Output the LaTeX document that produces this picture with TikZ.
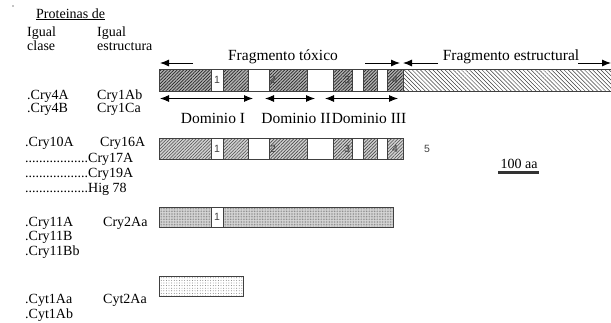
\documentclass[tikz,border=0pt]{standalone}
\usepackage{fontspec}
\setmainfont{Liberation Serif}
\newfontfamily\numfont{Liberation Sans}
\usetikzlibrary{arrows.meta,patterns,patterns.meta}

\tikzset{
  lbl/.style={anchor=base west,inner sep=0pt,font=\fontsize{14}{15}\selectfont},
  ttl/.style={anchor=base,inner sep=0pt,font=\fontsize{15.5}{16}\selectfont},
  num/.style={inner sep=0pt,font=\numfont\fontsize{10.5}{11}\selectfont,text=black!75},
  seg/.style={draw=black!75,line width=0.9pt},
  blank/.style={seg,fill=white},
  darkh/.style={seg,preaction={fill=gray!60},pattern={Lines[angle=45,distance=2.3pt,line width=0.7pt]},pattern color=black!85},
  lighth/.style={seg,preaction={fill=gray!35},pattern={Lines[angle=45,distance=2.3pt,line width=0.6pt]},pattern color=black!70},
  strh/.style={pattern={Lines[angle=-45,distance=2.9pt,line width=0.5pt]},pattern color=black!75},
  fined/.style={seg,preaction={fill=gray!30},pattern={Dots[distance=1.6pt,radius=0.45pt]},pattern color=black!55},
  sparsed/.style={seg,pattern={Dots[distance=2.6pt,radius=0.45pt]},pattern color=black!60},
  tip/.style={-{Latex[length=9pt,width=7pt]},line width=0.9pt},
  dtip/.style={{Latex[length=9pt,width=7pt]}-{Latex[length=9pt,width=7pt]},line width=0.9pt}
}

\begin{document}
\begin{tikzpicture}[x=1pt,y=-1pt]
 \useasboundingbox (0,0) rectangle (611,322);
 \fill (13,6) circle (0.6pt);

 \node[lbl] (hdr) at (36,18) {\underline{Proteinas de}};
 \node[lbl] (igc) at (27,36) {Igual};
 \node[lbl] (cls) at (27,50.5) {clase};
 \node[lbl] (ige) at (97,36) {Igual};
 \node[lbl] (est) at (97,50.5) {estructura};

 \node[lbl] (cry4a) at (27,99.5) {.Cry4A};
 \node[lbl] (cry4b) at (27,112) {.Cry4B};
 \node[lbl] (cry1ab) at (97,99.5) {Cry1Ab};
 \node[lbl] (cry1ca) at (97,112) {Cry1Ca};

 \node[lbl] (cry10a) at (25,146.5) {.Cry10A};
 \node[lbl] (cry16a) at (100,146.5) {Cry16A};
 \node[lbl] (cry17a) at (25,162) {..................Cry17A};
 \node[lbl] (cry19a) at (25,177) {..................Cry19A};
 \node[lbl] (hig78) at (25,192.5) {..................Hig 78};

 \node[lbl] (cry11a) at (25,226) {.Cry11A};
 \node[lbl] (cry2aa) at (103,226) {Cry2Aa};
 \node[lbl] (cry11b) at (25,240.5) {.Cry11B};
 \node[lbl] (cry11bb) at (25,255) {.Cry11Bb};

 \node[lbl] (cyt1aa) at (25,303.5) {.Cyt1Aa};
 \node[lbl] (cyt2aa) at (103,303.5) {Cyt2Aa};
 \node[lbl] (cyt1ab) at (25,318.5) {.Cyt1Ab};

 % toxina completa
 \fill[strh] (403,69) rectangle (611,91);
 \draw[seg] (403,69) -- (611,69) (403,91) -- (611,91);
 \foreach \a/\b in {159/211,223/248,269/307,333/352,363/377,387/403}
  \draw[darkh] (\a,69) rectangle (\b,91);
 \foreach \a/\b in {211/223,248/269,307/333,352/363,377/387}
  \draw[blank] (\a,69) rectangle (\b,91);
 \node[num] (b1) at (217,80) {1};
 \node[num] (b2) at (273,80) {2};
 \node[num] (b3) at (347,80) {3};
 \node[num] (b4) at (395,80) {4};

 \node[ttl] (ftox) at (283,60.5) {Fragmento tóxico};
 \coordinate (ftoxa) at (193,63);
 \coordinate (ftoxb) at (160,63);
 \coordinate (ftoxc) at (365,63);
 \coordinate (ftoxd) at (400,63);
 \draw[tip] (ftoxa) -- (ftoxb);
 \draw[tip] (ftoxc) -- (ftoxd);
 \node[ttl] (fest) at (511,60.5) {Fragmento estructural};
 \coordinate (festa) at (438,63);
 \coordinate (festb) at (403,63);
 \coordinate (festc) at (578,63);
 \coordinate (festd) at (611,63);
 \draw[tip] (festa) -- (festb);
 \draw[tip] (festc) -- (festd);

 \coordinate (d1a) at (160,98.5);
 \coordinate (d1b) at (253,98.5);
 \coordinate (d2a) at (265,98.5);
 \coordinate (d2b) at (315,98.5);
 \coordinate (d3a) at (325,98.5);
 \coordinate (d3b) at (398,98.5);
 \draw[dtip] (d1a) -- (d1b);
 \draw[dtip] (d2a) -- (d2b);
 \draw[dtip] (d3a) -- (d3b);
 \node[ttl] (dom1) at (213,123) {Dominio I};
 \node[ttl] (dom2) at (296,123) {Dominio II};
 \node[ttl] (dom3) at (369,123) {Dominio III};

 % toxina truncada
 \foreach \a/\b in {159/211,223/248,269/307,333/352,363/377,387/403}
  \draw[lighth] (\a,138) rectangle (\b,159);
 \foreach \a/\b in {211/223,248/269,307/333,352/363,377/387}
  \draw[blank] (\a,138) rectangle (\b,159);
 \node[num] (c1) at (217,149) {1};
 \node[num] (c2) at (273,149) {2};
 \node[num] (c3) at (347,149) {3};
 \node[num] (c4) at (395,149) {4};
 \node[num] (c5) at (427,149) {5};

 \node[ttl,font=\fontsize{14}{15}\selectfont] (escala) at (519,168.5) {100 aa};
 \draw[line width=2.8pt,black!80] (498,172.5) -- (539,172.5);

 % Cry2
 \draw[fined] (159,207) rectangle (393,227);
 \draw[blank] (211,207) rectangle (223,227);
 \node[num] (e1) at (217,217) {1};

 % Cyt
 \draw[sparsed] (159,276) rectangle (243,296.5);
\end{tikzpicture}
\end{document}
